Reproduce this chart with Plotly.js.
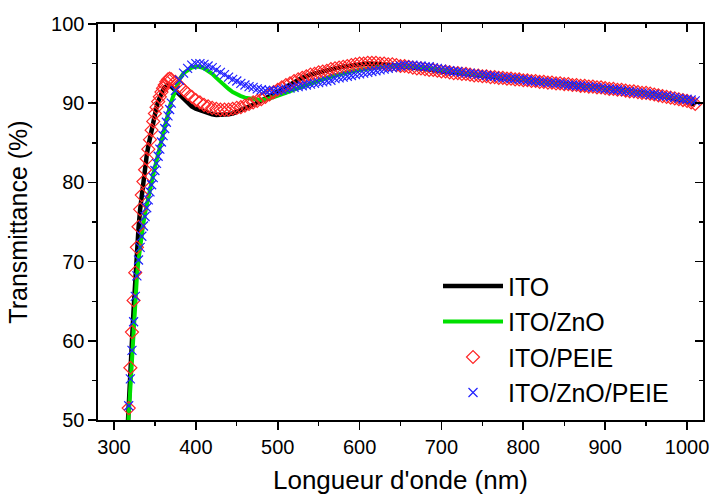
<!DOCTYPE html>
<html>
<head>
<meta charset="utf-8">
<script src="https://cdn.plot.ly/plotly-3.0.1.min.js"></script>
<style>html,body{margin:0;padding:0;background:#fff}#chart{width:712px;height:495px}</style>
</head>
<body>
<div id="chart"></div>
<script>
// Wavelength grid for the line series (nm)
const wlLine = [316,318,320,322,324,326,328,330,332,334,336,338,340,342,344,346,348,350,352,354,356,358,360,362,364,366,368,370,
  375,380,385,390,395,400,405,410,415,420,425,430,435,440,445,450,455,460,
  470,480,490,500,510,520,530,540,550,560,570,580,590,600,610,620,630,640,650,660,670,680,690,700,710,720,730,740,750,760,770,780,790,800,810,820,830,840,850,860,870,880,890,900,910,920,930,940,950,960,970,980,990,1000,1010];

// Wavelength grid for the marker series (nm)
const wlMark = [316,318,320,322,324,326,328,330,332,334,336,338,340,342,344,346,348,350,352,354,356,358,360,362,364,366,368,370,
  375,380,385,390,395,400,405,410,415,420,425,430,435,440,445,450,455,460,465,470,475,480,485,490,495,500,505,510,515,520,525,530,535,540,545,550,555,560,565,570,575,580,585,590,595,600,605,610,615,620,625,630,635,640,645,650,655,660,665,670,675,680,685,690,695,700,705,710,715,720,725,730,735,740,745,750,755,760,765,770,775,780,785,790,795,800,805,810,815,820,825,830,835,840,845,850,855,860,865,870,875,880,885,890,895,900,905,910,915,920,925,930,935,940,945,950,955,960,965,970,975,980,985,990,995,1000,1005,1010];

// Transmittance (%)
const tITO = [47.5,51.0,55.5,60.0,64.0,68.0,71.5,74.2,76.6,78.6,80.4,82.0,83.4,84.6,85.7,86.8,87.8,88.7,89.5,90.2,90.8,91.3,91.7,92.0,92.2,92.3,92.3,92.1,
  91.6,91.0,90.5,90.0,89.6,89.3,89.1,88.9,88.7,88.6,88.5,88.5,88.5,88.6,88.7,88.9,89.1,89.3,
  89.8,90.3,90.9,91.5,92.1,92.7,93.2,93.6,93.9,94.2,94.4,94.6,94.8,94.9,95.0,95.0,94.9,94.8,94.7,94.6,94.4,94.3,94.2,94.0,93.9,93.8,93.7,93.5,93.4,93.3,93.2,93.1,93.0,92.9,92.8,92.7,92.6,92.5,92.4,92.3,92.2,92.1,92.0,91.9,91.8,91.7,91.5,91.4,91.3,91.1,90.9,90.7,90.5,90.2,89.8];

const tITOZnO = [47.0,50.5,54.3,58.3,62.0,65.3,68.0,70.2,72.0,73.5,74.9,76.1,77.2,78.2,79.2,80.1,81.0,81.9,82.8,83.6,84.5,85.4,86.3,87.1,87.9,88.7,89.5,90.2,
  91.8,93.0,93.8,94.2,94.5,94.6,94.6,94.4,94.1,93.7,93.2,92.7,92.2,91.8,91.4,91.1,90.9,90.7,
  90.5,90.4,90.6,90.9,91.3,91.7,92.1,92.5,92.9,93.2,93.5,93.8,94.0,94.2,94.4,94.5,94.6,94.7,94.7,94.7,94.6,94.5,94.4,94.2,94.1,94.0,93.8,93.7,93.6,93.4,93.3,93.2,93.1,93.0,92.8,92.7,92.6,92.5,92.4,92.3,92.2,92.1,92.0,91.8,91.7,91.6,91.5,91.3,91.2,91.1,90.9,90.8,90.6,90.5,90.3];

const tITOPEIE = [48.0,51.5,56.6,61.1,65.1,68.6,71.8,74.4,76.6,78.4,80.1,81.6,83.0,84.2,85.4,86.6,87.7,88.7,89.5,90.2,90.8,91.4,91.9,92.3,92.7,93.0,93.1,93.0,
  92.7,92.2,91.7,91.2,90.8,90.4,90.1,89.8,89.6,89.4,89.3,89.2,89.2,89.2,89.3,89.4,89.5,89.7,89.9,90.1,90.3,90.5,90.8,91.1,91.4,91.7,92.0,92.3,92.5,92.8,93.0,93.2,93.4,93.6,93.7,93.9,94.0,94.1,94.3,94.4,94.5,94.6,94.7,94.8,94.9,95.0,95.0,95.1,95.1,95.1,95.0,95.0,94.9,94.9,94.8,94.7,94.7,94.6,94.5,94.4,94.4,94.3,94.2,94.2,94.1,94.0,94.0,93.9,93.8,93.8,93.7,93.7,93.6,93.5,93.5,93.4,93.4,93.3,93.3,93.2,93.2,93.1,93.1,93.0,93.0,92.9,92.9,92.8,92.8,92.7,92.7,92.6,92.6,92.5,92.5,92.4,92.4,92.3,92.3,92.2,92.2,92.1,92.1,92.0,92.0,91.9,91.8,91.8,91.7,91.7,91.6,91.5,91.5,91.4,91.3,91.3,91.2,91.1,91.0,90.9,90.8,90.7,90.6,90.5,90.4,90.3,90.1,89.9];

const tITOZnOPEIE = [48.5,51.8,55.2,58.8,62.4,65.6,68.2,70.2,71.8,73.2,74.5,75.7,76.8,77.8,78.8,79.7,80.6,81.5,82.4,83.3,84.2,85.1,85.9,86.8,87.6,88.4,89.2,90.0,
  91.6,92.9,93.8,94.4,94.8,95.0,95.0,94.9,94.7,94.5,94.2,93.9,93.6,93.3,93.0,92.8,92.5,92.3,92.1,92.0,91.8,91.7,91.6,91.6,91.6,91.6,91.7,91.8,91.9,92.0,92.1,92.2,92.3,92.4,92.5,92.6,92.7,92.8,92.9,93.1,93.2,93.3,93.4,93.5,93.6,93.7,93.8,93.9,94.0,94.1,94.2,94.3,94.4,94.5,94.6,94.7,94.8,94.8,94.8,94.7,94.7,94.6,94.6,94.5,94.4,94.3,94.2,94.1,94.0,94.0,93.9,93.8,93.8,93.7,93.6,93.6,93.5,93.4,93.4,93.3,93.2,93.2,93.1,93.1,93.0,93.0,92.9,92.8,92.8,92.7,92.7,92.6,92.6,92.5,92.5,92.4,92.3,92.3,92.2,92.2,92.1,92.1,92.0,92.0,91.9,91.8,91.8,91.7,91.7,91.6,91.5,91.5,91.4,91.3,91.3,91.2,91.1,91.1,91.0,90.9,90.9,90.8,90.7,90.6,90.5,90.5,90.4,90.3];

const seriesNames = ['ITO','ITO/ZnO','ITO/PEIE','ITO/ZnO/PEIE'];

const FONT = 'Liberation Sans, Arial, Helvetica, sans-serif';

const traces = [
  {x: wlLine, y: tITO, name: seriesNames[0], type: 'scatter', mode: 'lines',
   line: {color: '#000000', width: 4.5}},
  {x: wlLine, y: tITOZnO, name: seriesNames[1], type: 'scatter', mode: 'lines',
   line: {color: '#00e000', width: 4}},
  {x: wlMark, y: tITOPEIE, name: seriesNames[2], type: 'scatter', mode: 'markers',
   marker: {symbol: 'diamond-open', size: 10, color: '#ff2424', line: {width: 1.2, color: '#ff2424'}}},
  {x: wlMark, y: tITOZnOPEIE, name: seriesNames[3], type: 'scatter', mode: 'markers',
   marker: {symbol: 'x-thin-open', size: 9, color: '#2020ff', line: {width: 1.2, color: '#2020ff'}}},
  // empty trace that only registers the top/right frame axes
  {x: [], y: [], xaxis: 'x2', yaxis: 'y2', type: 'scatter', mode: 'lines', showlegend: false, hoverinfo: 'skip'}
];

const axisCommon = {
  showgrid: false, zeroline: false, showline: true, linecolor: '#000', linewidth: 1.6,
  tickcolor: '#000', tickwidth: 1.6, ticklen: 8,
  tickfont: {family: FONT, size: 20, color: '#000'}
};

const layout = {
  width: 712, height: 495,
  margin: {l: 98, r: 9, t: 24, b: 75, pad: 0},
  paper_bgcolor: '#fff', plot_bgcolor: '#fff',
  font: {family: FONT, color: '#000'},
  showlegend: true,
  legend: {x: 0.562, y: 0.012, xanchor: 'left', yanchor: 'bottom', bgcolor: 'rgba(0,0,0,0)',
           font: {family: FONT, size: 25, color: '#000'}, itemwidth: 60, tracegroupgap: 0},
  xaxis: Object.assign({}, axisCommon, {
    range: [280.5, 1019.5], ticks: 'outside', tick0: 0, dtick: 100,
    minor: {dtick: 50, ticks: 'outside', ticklen: 4, tickwidth: 1.4, tickcolor: '#000'},
    title: {text: "Longueur d'onde (nm)", font: {family: FONT, size: 26, color: '#000'}, standoff: 20}
  }),
  yaxis: Object.assign({}, axisCommon, {
    range: [50, 100], ticks: 'outside', tick0: 0, dtick: 10,
    minor: {dtick: 5, ticks: 'outside', ticklen: 4, tickwidth: 1.4, tickcolor: '#000'},
    title: {text: 'Transmittance (%)', font: {family: FONT, size: 25, color: '#000'}, standoff: 16}
  }),
  xaxis2: Object.assign({}, axisCommon, {
    overlaying: 'x', anchor: 'y2', side: 'top', range: [280.5, 1019.5],
    ticks: 'inside', tick0: 0, dtick: 100, showticklabels: false,
    minor: {dtick: 50, ticks: 'inside', ticklen: 4, tickwidth: 1.4, tickcolor: '#000'}
  }),
  yaxis2: Object.assign({}, axisCommon, {
    overlaying: 'y', anchor: 'x2', side: 'right', range: [50, 100],
    ticks: 'inside', tick0: 0, dtick: 10, showticklabels: false,
    minor: {dtick: 5, ticks: 'inside', ticklen: 4, tickwidth: 1.4, tickcolor: '#000'}
  })
};

Plotly.newPlot('chart', traces, layout, {displayModeBar: false, staticPlot: true});
</script>
</body>
</html>
